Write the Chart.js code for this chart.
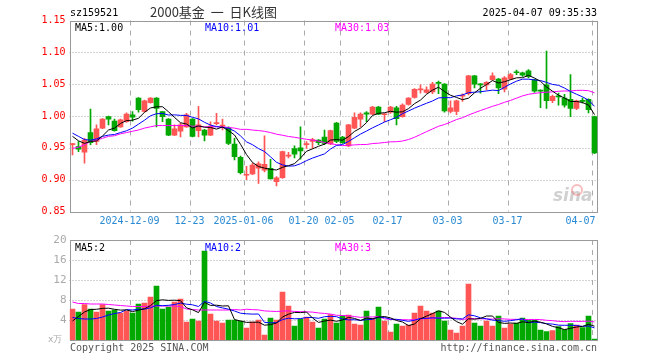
<!DOCTYPE html>
<html>
<head>
<meta charset="utf-8">
<script src="https://cdn.jsdelivr.net/npm/chart.js"></script>
<style>
body { margin: 0; background: #fff; width: 660px; height: 360px; position: relative; overflow: hidden; }
canvas { position: absolute; left: 0; }
.t { position: absolute; white-space: nowrap; line-height: 1; font-family: "DejaVu Sans Mono", monospace; font-size: 10px; z-index: 2; }
</style>
</head>
<body>
<canvas id="kline" width="660" height="235" style="top:0"></canvas>
<canvas id="vol" width="660" height="130" style="top:230px"></canvas>

<div class="t" style="left:70px;top:8px;color:#000">sz159521</div>
<div class="t" style="left:150px;top:5px;font-family:'Noto Sans CJK SC';font-size:13px;color:#333">2000基金&nbsp;&nbsp;一&nbsp;&nbsp;日K线图</div>
<div class="t" style="right:63px;top:8px;color:#000">2025-04-07 09:35:33</div>
<div class="t" style="left:75px;top:23px;color:#000">MA5:1.00</div>
<div class="t" style="left:205px;top:23px;color:#0000ff">MA10:1.01</div>
<div class="t" style="left:335px;top:23px;color:#ff00ff">MA30:1.03</div>
<div class="t" style="left:75px;top:243px;color:#000">MA5:2</div>
<div class="t" style="left:205px;top:243px;color:#0000ff">MA10:2</div>
<div class="t" style="left:335px;top:243px;color:#ff00ff">MA30:3</div>
<div class="t" style="left:48px;top:335px;color:#aaa;font-size:9px">x万</div>
<div class="t" style="left:70px;top:343px;color:#555">Copyright 2025 SINA.COM</div>
<div class="t" style="right:63px;top:343px;color:#555">http://finance.sina.com.cn</div>

<script>
// trading days shown
const dates = [
  '2024-11-25','2024-11-26','2024-11-27','2024-11-28','2024-11-29',
  '2024-12-02','2024-12-03','2024-12-04','2024-12-05','2024-12-06',
  '2024-12-09','2024-12-10','2024-12-11','2024-12-12','2024-12-13',
  '2024-12-16','2024-12-17','2024-12-18','2024-12-19','2024-12-20',
  '2024-12-23','2024-12-24','2024-12-25','2024-12-26','2024-12-27',
  '2024-12-30','2024-12-31','2025-01-02','2025-01-03',
  '2025-01-06','2025-01-07','2025-01-08','2025-01-09','2025-01-10',
  '2025-01-13','2025-01-14','2025-01-15','2025-01-16','2025-01-17',
  '2025-01-20','2025-01-21','2025-01-22','2025-01-23','2025-01-24','2025-01-27',
  '2025-02-05','2025-02-06','2025-02-07',
  '2025-02-10','2025-02-11','2025-02-12','2025-02-13','2025-02-14',
  '2025-02-17','2025-02-18','2025-02-19','2025-02-20','2025-02-21',
  '2025-02-24','2025-02-25','2025-02-26','2025-02-27','2025-02-28',
  '2025-03-03','2025-03-04','2025-03-05','2025-03-06','2025-03-07',
  '2025-03-10','2025-03-11','2025-03-12','2025-03-13','2025-03-14',
  '2025-03-17','2025-03-18','2025-03-19','2025-03-20','2025-03-21',
  '2025-03-24','2025-03-25','2025-03-26','2025-03-27','2025-03-28',
  '2025-03-31','2025-04-01','2025-04-02','2025-04-03','2025-04-07'
];

const open = [
  0.955,0.952,0.943,0.974,0.960,0.981,0.999,0.992,0.983,0.991,
  1.002,1.028,1.007,1.021,1.028,1.007,0.995,0.970,0.976,0.983,
  0.995,0.977,0.978,0.970,0.988,0.984,0.981,0.956,0.935,0.907,
  0.909,0.918,0.915,0.918,0.897,0.903,0.937,0.949,0.950,0.955,
  0.960,0.962,0.967,0.956,0.989,0.967,0.953,0.981,0.995,1.005,
  1.003,1.014,1.002,1.006,1.013,0.999,1.018,1.029,1.041,1.037,
  1.038,1.053,1.050,1.007,1.007,1.031,1.035,1.063,1.050,1.049,
  1.057,1.058,1.042,1.058,1.069,1.068,1.071,1.057,1.040,1.049,
  1.024,1.031,1.028,1.026,1.012,1.024,1.026,0.999
];
const high = [
  0.957,0.960,0.965,1.011,0.986,0.996,1.000,0.995,0.995,1.005,
  1.007,1.029,1.025,1.029,1.029,1.007,0.996,0.986,0.989,1.004,
  0.996,1.015,0.979,0.991,1.004,0.995,0.983,0.965,0.937,0.921,
  0.926,0.928,0.969,0.932,0.905,0.945,0.943,0.953,0.983,0.960,
  0.965,0.963,0.978,0.978,0.990,0.968,0.987,1.005,1.005,1.007,
  1.015,1.015,1.004,1.015,1.015,1.019,1.029,1.043,1.049,1.046,
  1.053,1.055,1.051,1.024,1.025,1.035,1.064,1.064,1.051,1.054,
  1.068,1.059,1.062,1.067,1.072,1.069,1.073,1.058,1.041,1.102,
  1.033,1.036,1.034,1.065,1.025,1.028,1.027,1.000
];
const low = [
  0.939,0.944,0.926,0.955,0.955,0.980,0.986,0.976,0.982,0.990,
  0.992,1.006,1.006,1.020,0.983,0.991,0.969,0.969,0.967,0.982,
  0.967,0.967,0.961,0.969,0.986,0.978,0.955,0.931,0.909,0.900,
  0.908,0.894,0.912,0.901,0.890,0.902,0.934,0.934,0.932,0.949,
  0.949,0.955,0.955,0.955,0.958,0.957,0.952,0.980,0.983,0.991,
  1.002,1.002,0.991,1.004,0.986,0.998,1.017,1.028,1.036,1.036,
  1.035,1.035,1.006,1.005,1.002,1.023,1.033,1.044,1.036,1.041,
  1.056,1.035,1.038,1.057,1.065,1.062,1.060,1.037,1.013,1.012,
  1.021,1.017,1.014,0.999,1.010,1.020,1.005,0.941
];
const close = [
  0.956,0.948,0.962,0.958,0.980,0.995,0.995,0.977,0.994,1.003,
  0.998,1.010,1.024,1.028,1.012,0.999,0.970,0.980,0.986,1.002,
  0.968,0.986,0.970,0.984,0.989,0.985,0.957,0.936,0.911,0.908,
  0.923,0.925,0.924,0.901,0.903,0.944,0.938,0.940,0.945,0.956,
  0.963,0.958,0.957,0.977,0.960,0.958,0.986,0.998,1.003,1.003,
  1.014,1.003,1.003,1.014,0.996,1.017,1.028,1.042,1.042,1.041,
  1.050,1.051,1.008,1.013,1.024,1.032,1.063,1.050,1.049,1.053,
  1.063,1.044,1.060,1.065,1.068,1.064,1.062,1.039,1.039,1.024,
  1.031,1.030,1.017,1.012,1.024,1.023,1.010,0.942
];
// volume, 万手
const volume = [
  6.2,5.6,7.1,6.2,5.6,7.1,5.8,6.0,5.4,5.8,
  5.4,7.2,7.4,8.6,10.8,6.2,6.6,7.6,8.2,3.6,
  4.2,3.8,17.8,5.2,3.8,3.4,4.0,4.0,3.8,2.4,
  3.6,4.0,1.0,4.4,4.0,9.6,6.8,2.8,4.2,4.6,
  3.6,2.4,4.2,5.1,3.4,4.9,5.0,3.2,3.0,5.8,
  4.3,6.6,3.8,1.6,3.2,2.8,3.0,5.4,6.8,5.8,
  5.4,5.8,3.8,2.0,1.4,2.8,11.2,3.4,2.8,3.8,
  2.8,4.8,2.4,3.2,3.4,4.4,4.0,4.0,2.0,1.7,
  1.9,2.7,2.1,3.3,3.0,2.5,4.8,0.2
];

const priceMa5Lead = [0.968,0.961,0.957,0.960];
const priceMa10Lead = [0.973,0.968,0.963,0.962,0.964,0.968,0.970,0.971,0.974];
const priceMa30Lead = [
  0.949,0.951,0.955,0.960,0.962,0.965,0.968,0.969,0.972,0.974,
  0.976,0.978,0.981,0.983,0.985,0.985,0.985,0.985,0.985,0.985,
  0.984,0.984,0.983,0.983,0.983,0.983,0.982,0.981,0.979
];
const volMa5Lead = [3.8,4.7,5.6,6.1];
const volMa10Lead = [4.5,4.3,4.2,4.2,4.3,4.6,5.0,5.3,5.5];
const volMa30Lead = [
  7.6,7.3,7.3,7.2,7.2,7.2,7.1,7.0,6.9,6.8,
  6.7,6.7,6.7,6.8,6.8,6.8,6.8,6.8,6.7,6.2,
  6.1,6.0,6.0,6.0,6.0,6.0,6.0,6.1,6.0
];

const tickIdx = [10, 20, 29, 39, 45, 53, 63, 73, 87];
const tickText = ['2024-12-09','12-23','2025-01-06','01-20','02-05','02-17','03-03','03-17','04-07'];
const priceTicks = [1.15, 1.10, 1.05, 1.00, 0.95, 0.90, 0.85];
const volTicks = [20, 16, 12, 8, 4];

const UP = '#ff5555', DOWN = '#00a800';
const colors = close.map((c, i) => c >= open[i] ? UP : DOWN);

function movingAvg(vals, n, lead) {
    return vals.map((v, i) => {
        if (i < n - 1) return lead[i];
        let s = 0;
        for (let k = i - n + 1; k <= i; k++) s += vals[k];
        return s / n;
    });
}

const bodies = open.map((o, i) => [o, close[i]]);
const wicks = low.map((l, i) => [l, high[i]]);

function maLine(data, color) {
    return { type: 'line', data: data, borderColor: color, borderWidth: 1, pointRadius: 0, tension: 0, order: 0 };
}

// grid, frame and x labels drawn in the library's coordinate system
function framePlugin(opts) {
    return {
        id: 'frame',
        beforeDatasetsDraw(chart) {
            const ctx = chart.ctx, a = chart.chartArea, x = chart.scales.x, y = chart.scales.y;
            const step = x.getPixelForValue(1) - x.getPixelForValue(0);
            ctx.save();
            ctx.strokeStyle = '#aaa';
            ctx.lineWidth = 1;
            ctx.setLineDash([1, 2]);
            opts.yTicks.forEach(v => {
                const py = Math.round(y.getPixelForValue(v)) + 0.5;
                if (py <= a.top + 1 || py >= a.bottom - 1) return;
                ctx.beginPath(); ctx.moveTo(a.left, py); ctx.lineTo(a.right, py); ctx.stroke();
            });
            ctx.setLineDash([5, 5]);
            tickIdx.forEach(i => {
                const px = Math.round(x.getPixelForValue(i) - step / 2) + 0.5;
                ctx.beginPath(); ctx.moveTo(px, a.top); ctx.lineTo(px, a.bottom); ctx.stroke();
            });
            ctx.setLineDash([]);
            ctx.strokeStyle = '#999';
            ctx.strokeRect(Math.round(a.left) + 0.5, Math.round(a.top) + 0.5, Math.round(a.right - a.left) - 1, Math.round(a.bottom - a.top));
            ctx.restore();
        },
        afterDraw(chart) {
            if (!opts.xLabels) return;
            const ctx = chart.ctx, a = chart.chartArea, x = chart.scales.x;
            const step = x.getPixelForValue(1) - x.getPixelForValue(0);
            ctx.save();
            ctx.font = '10px "DejaVu Sans Mono"';
            ctx.fillStyle = '#2a8ad4';
            ctx.textBaseline = 'top';
            tickIdx.forEach((i, k) => {
                const w = ctx.measureText(tickText[k]).width;
                let px = x.getPixelForValue(i) - step / 2 - w / 2;
                if (px + w > a.right - 2) px = a.right - 2 - w;
                ctx.fillText(tickText[k], px, a.bottom + 5);
            });
            // sina watermark
            ctx.fillStyle = 'rgba(150,150,150,0.45)';
            ctx.font = 'italic bold 17px "DejaVu Sans"';
            ctx.fillText('sina', 553, 188);
            ctx.strokeStyle = 'rgba(240,110,110,0.45)';
            ctx.lineWidth = 2;
            ctx.beginPath(); ctx.arc(577, 190, 5, 0, Math.PI * 2); ctx.stroke();
            ctx.restore();
        }
    };
}

new Chart(document.getElementById('kline'), {
    type: 'bar',
    data: {
        labels: dates,
        datasets: [
            maLine(movingAvg(close, 5, priceMa5Lead), '#000000'),
            maLine(movingAvg(close, 10, priceMa10Lead), '#0000ff'),
            maLine(movingAvg(close, 30, priceMa30Lead), '#ff00ff'),
            { data: bodies, backgroundColor: colors, barThickness: 5, grouped: false, minBarLength: 1, order: 1 },
            { data: wicks, backgroundColor: colors, barThickness: 1, grouped: false, minBarLength: 1, order: 2 }
        ]
    },
    options: {
        responsive: false,
        animation: false,
        devicePixelRatio: 1,
        layout: { padding: { left: 0, right: 62.5, top: 20.5, bottom: 23.5 } },
        plugins: { legend: { display: false }, tooltip: { enabled: false } },
        scales: {
            x: { display: false, offset: true },
            y: {
                min: 0.85, max: 1.15,
                afterFit: s => { s.width = 69.5; },
                grid: { display: false, drawTicks: false, tickLength: 0 },
                border: { display: false },
                ticks: {
                    stepSize: 0.05, color: '#ff0000', padding: 4,
                    font: { family: 'DejaVu Sans Mono', size: 10 },
                    callback: v => Number(v).toFixed(2)
                }
            }
        }
    },
    plugins: [framePlugin({ yTicks: priceTicks, xLabels: true })]
});

new Chart(document.getElementById('vol'), {
    type: 'bar',
    data: {
        labels: dates,
        datasets: [
            maLine(movingAvg(volume, 5, volMa5Lead), '#000000'),
            maLine(movingAvg(volume, 10, volMa10Lead), '#0000ff'),
            maLine(movingAvg(volume, 30, volMa30Lead), '#ff00ff'),
            { data: volume, backgroundColor: colors, barThickness: 5, grouped: false, order: 1 }
        ]
    },
    options: {
        responsive: false,
        animation: false,
        devicePixelRatio: 1,
        layout: { padding: { left: 0, right: 62.5, top: 10, bottom: 20 } },
        plugins: { legend: { display: false }, tooltip: { enabled: false } },
        scales: {
            x: { display: false, offset: true },
            y: {
                min: 0, max: 20,
                afterFit: s => { s.width = 69.5; },
                grid: { display: false, drawTicks: false, tickLength: 0 },
                border: { display: false },
                ticks: {
                    stepSize: 4, color: '#aaa', padding: 3,
                    font: { family: 'DejaVu Sans Mono', size: 11 },
                    callback: v => v === 0 ? '' : v
                }
            }
        }
    },
    plugins: [framePlugin({ yTicks: volTicks, xLabels: false })]
});
</script>
</body>
</html>
